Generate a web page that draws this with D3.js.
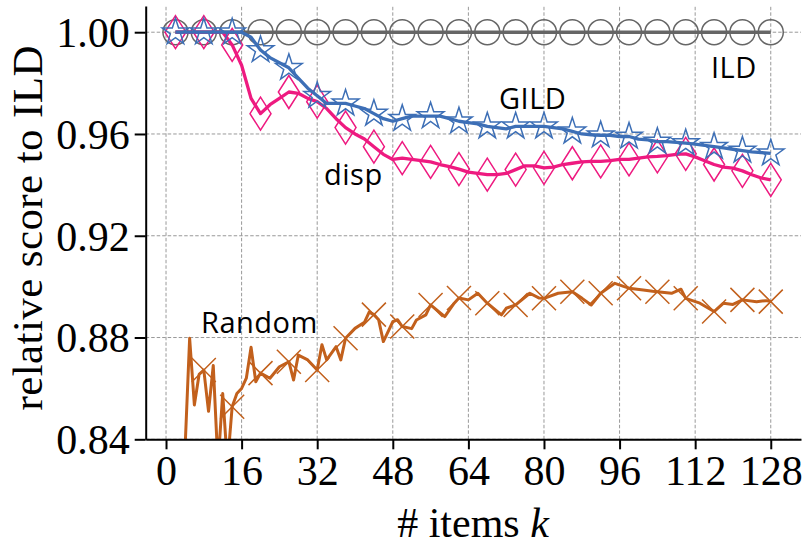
<!DOCTYPE html>
<meta charset="utf-8">
<script src="https://d3js.org/d3.v7.min.js"></script>
<style>
  body { margin: 0; background: #fff; }
</style>
<div id="chart"></div>
<script>

// k values shared by ILD, GILD and disp
var kEven = [2,4,6,8,10,12,14,16,18,20,22,24,26,28,30,32,34,36,38,40,42,44,46,48,50,52,54,56,58,60,62,64,
             66,68,70,72,74,76,78,80,82,84,86,88,90,92,94,96,98,100,102,104,106,108,110,112,114,116,118,120,122,124,126,128];

var ild = [1,1,1,1,1,1,1,1,1,1,1,1,1,1,1,1,1,1,1,1,1,1,1,1,1,1,1,1,1,1,1,1,
           1,1,1,1,1,1,1,1,1,1,1,1,1,1,1,1,1,1,1,1,1,1,1,1,1,1,1,1,1,1,1,1];

var gild = [1.000,1.000,1.000,1.000,1.000,1.000,1.000,1.000,0.998,0.993,0.990,0.988,0.986,0.982,0.978,0.975,
            0.972,0.972,0.972,0.971,0.970,0.968,0.966,0.965,0.966,0.967,0.967,0.967,0.967,0.966,0.965,0.9645,
            0.964,0.963,0.9625,0.962,0.963,0.963,0.963,0.963,0.9625,0.962,0.961,0.960,0.9597,0.9595,0.9595,0.959,
            0.959,0.958,0.9577,0.957,0.957,0.9567,0.9564,0.956,0.9555,0.955,0.9545,0.954,0.9535,0.953,0.9527,0.9524];

var disp = [1.000,1.000,1.000,1.000,1.000,1.000,0.995,0.987,0.974,0.968,0.9715,0.974,0.9765,0.976,0.974,0.9727,
            0.970,0.966,0.9625,0.960,0.958,0.955,0.952,0.950,0.9505,0.950,0.9495,0.949,0.948,0.9472,0.9462,0.945,
            0.9445,0.944,0.944,0.9445,0.946,0.9475,0.9475,0.9467,0.947,0.948,0.9485,0.949,0.9492,0.9492,0.9495,0.950,
            0.950,0.9505,0.951,0.9512,0.9515,0.952,0.9522,0.951,0.9495,0.948,0.947,0.9466,0.9455,0.944,0.9427,0.942];

// Random is noisier, so it has its own k list
var randK = [2,3,4,5,6,7,8,9,10,11,12,13,14,15,16,17,18,19,20,22,24,26,27,28,30,32,33,34,36,37,38,40,42,43,44,45,46,48,49,50,
             52,53,55,56,59,61,62,64,66,68,71,72,74,77,79,80,83,86,88,90,92,95,97,98,101,103,104,107,109,110,113,116,118,120,122,125,127,128];
var randV = [0.800,0.810,0.835,0.8797,0.8535,0.8655,0.8672,0.851,0.869,0.830,0.858,0.830,0.8528,0.858,0.860,0.864,0.8762,0.8626,0.866,0.864,
             0.8685,0.8705,0.8633,0.8731,0.8712,0.8672,0.8772,0.8712,0.8764,0.8712,0.8797,0.8836,0.886,0.890,0.889,0.887,0.8784,0.8862,0.887,0.8843,
             0.8835,0.8869,0.8889,0.8928,0.8882,0.8935,0.8955,0.8948,0.8974,0.8935,0.8889,0.8915,0.8928,0.8974,0.8955,0.8954,0.8974,0.898,0.8955,0.8928,
             0.8974,0.9013,0.900,0.8994,0.8987,0.8982,0.898,0.8974,0.899,0.8954,0.8935,0.8902,0.8935,0.893,0.8948,0.8941,0.8945,0.8941];

var xTicks = [0,16,32,48,64,80,96,112,128];
var yTicks = [0.84,0.88,0.92,0.96,1.00];

var W = 810, H = 552;

var svg = d3.select("#chart").append("svg")
    .attr("width", W)
    .attr("height", H);

var x = d3.scaleLinear().domain([-4.3, 134.4]).range([145.7, 801]);
var y = d3.scaleLinear().domain([0.84, 1.0103]).range([439.3, 6]);

// grid
svg.append("g").selectAll("line").data(xTicks).enter().append("line")
    .attr("x1", function(d) { return x(d); }).attr("x2", function(d) { return x(d); })
    .attr("y1", y.range()[0]).attr("y2", y.range()[1])
    .attr("stroke", "#999").attr("stroke-width", 1).attr("stroke-dasharray", "3.5,2");
svg.append("g").selectAll("line").data(yTicks).enter().append("line")
    .attr("x1", x.range()[0]).attr("x2", x.range()[1])
    .attr("y1", function(d) { return y(d); }).attr("y2", function(d) { return y(d); })
    .attr("stroke", "#999").attr("stroke-width", 1).attr("stroke-dasharray", "3.5,2");

svg.append("clipPath").attr("id", "plotclip").append("rect")
    .attr("x", x.range()[0]).attr("y", y.range()[1])
    .attr("width", x.range()[1] - x.range()[0])
    .attr("height", y.range()[0] - y.range()[1]);

var plot = svg.append("g").attr("clip-path", "url(#plotclip)");

function isMark(k) { return (k - 2) % 6 === 0; }

var line = d3.line()
    .x(function(d) { return x(d[0]); })
    .y(function(d) { return y(d[1]); });

function series(ks, vs, color, marker, lw) {
  var pts = ks.map(function(k, i) { return [k, vs[i]]; });
  plot.append("path").datum(pts)
    .attr("fill", "none").attr("stroke", color).attr("stroke-width", lw)
    .attr("stroke-linejoin", "round")
    .attr("d", line);
  plot.append("g").selectAll("path")
    .data(pts.filter(function(p) { return isMark(p[0]); }))
    .enter().append("path")
    .attr("transform", function(d) { return "translate(" + x(d[0]) + "," + y(d[1]) + ")"; })
    .attr("d", marker)
    .attr("fill", "none").attr("stroke", color).attr("stroke-width", 1.5);
}

var circleM = d3.symbol().type(d3.symbolCircle).size(Math.PI * 12.5 * 12.5)();
var starM = d3.symbol().type(d3.symbolStar).size(14 * 14 / 0.8908)();
var diamondM = "M0,-16.5L10.5,0L0,16.5L-10.5,0Z";
var crossM = "M-12,-12L12,12M-12,12L12,-12";

series(kEven, ild, "#666666", circleM, 3.5);
series(kEven, disp, "#ee1a80", diamondM, 3.3);
series(kEven, gild, "#3d6fb6", starM, 3.3);
series(randK, randV, "#c2601c", crossM, 3);

// axes
var xAxis = svg.append("g")
    .attr("transform", "translate(0," + y.range()[0] + ")")
    .call(d3.axisBottom(x).tickValues(xTicks).tickSize(10).tickSizeOuter(0).tickPadding(6));
var yAxis = svg.append("g")
    .attr("transform", "translate(" + x.range()[0] + ",0)")
    .call(d3.axisLeft(y).tickValues(yTicks).tickFormat(d3.format(".2f")).tickSize(11).tickSizeOuter(0).tickPadding(5));

[xAxis, yAxis].forEach(function(a) {
  a.select(".domain").attr("stroke", "#000").attr("stroke-width", 2);
  a.selectAll(".tick line").attr("stroke", "#000").attr("stroke-width", 2);
  a.selectAll(".tick text")
    .attr("fill", "#000")
    .style("font-family", "'Liberation Serif', serif")
    .style("font-size", "42px");
});
yAxis.selectAll(".tick text").attr("dy", "0.34em");

// axis titles
svg.append("text")
    .attr("transform", "translate(42,228) rotate(-90)")
    .attr("text-anchor", "middle")
    .attr("textLength", 365)
    .style("font-family", "'Liberation Serif', serif")
    .style("font-size", "43px")
    .text("relative score to ILD");

var xl = svg.append("text")
    .attr("x", 473).attr("y", 537)
    .attr("text-anchor", "middle")
    .style("font-family", "'Liberation Serif', serif")
    .style("font-size", "42px");
xl.append("tspan").text("# items ");
xl.append("tspan").style("font-style", "italic").text("k");

// series labels
var labels = [
  {t: "ILD", x: 711, y: 78},
  {t: "GILD", x: 499, y: 109},
  {t: "disp", x: 324, y: 185},
  {t: "Random", x: 201, y: 333}
];
svg.append("g").selectAll("text").data(labels).enter().append("text")
    .attr("x", function(d) { return d.x; })
    .attr("y", function(d) { return d.y; })
    .style("font-family", "'Open Sans', sans-serif")
    .style("font-size", "29px")
    .style("letter-spacing", "0.5px")
    .attr("fill", "#000")
    .text(function(d) { return d.t; });

</script>
